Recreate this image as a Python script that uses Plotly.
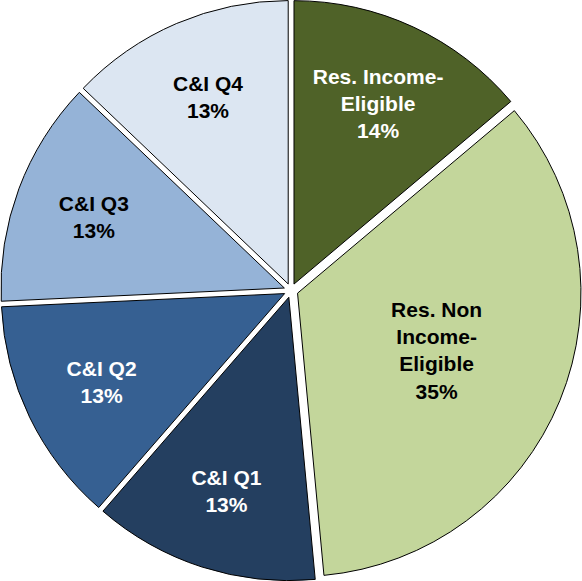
import plotly.graph_objects as go

labels = ["Res. Income-<br>Eligible", "Res. Non<br>Income-<br>Eligible", "C&I Q1", "C&I Q2", "C&I Q3", "C&I Q4"]
values = [14, 35, 13, 13, 13, 13]
colors = ["#4F6228", "#C3D69B", "#243F60", "#366092", "#95B3D7", "#DCE6F2"]
text_colors = ["white", "black", "white", "white", "black", "black"]

fig = go.Figure(go.Pie(
    labels=labels,
    values=values,
    sort=False,
    direction="clockwise",
    rotation=0,
    marker=dict(colors=colors, line=dict(color="black", width=1)),
    pull=[0.025] * 6,
    texttemplate="<b>%{label}<br>%{percent:.0%}</b>",
    textposition="inside",
    insidetextorientation="horizontal",
    insidetextfont=dict(family="Liberation Sans, Arial", size=21, color=text_colors),
    showlegend=False,
    hoverinfo="skip",
))
fig.update_layout(
    width=582, height=581,
    margin=dict(l=0, r=0, t=0, b=0),
    paper_bgcolor="white",
    plot_bgcolor="white",
)
fig.write_html("out.html", config={"displayModeBar": False},
               post_script="document.body.style.margin='0';")
